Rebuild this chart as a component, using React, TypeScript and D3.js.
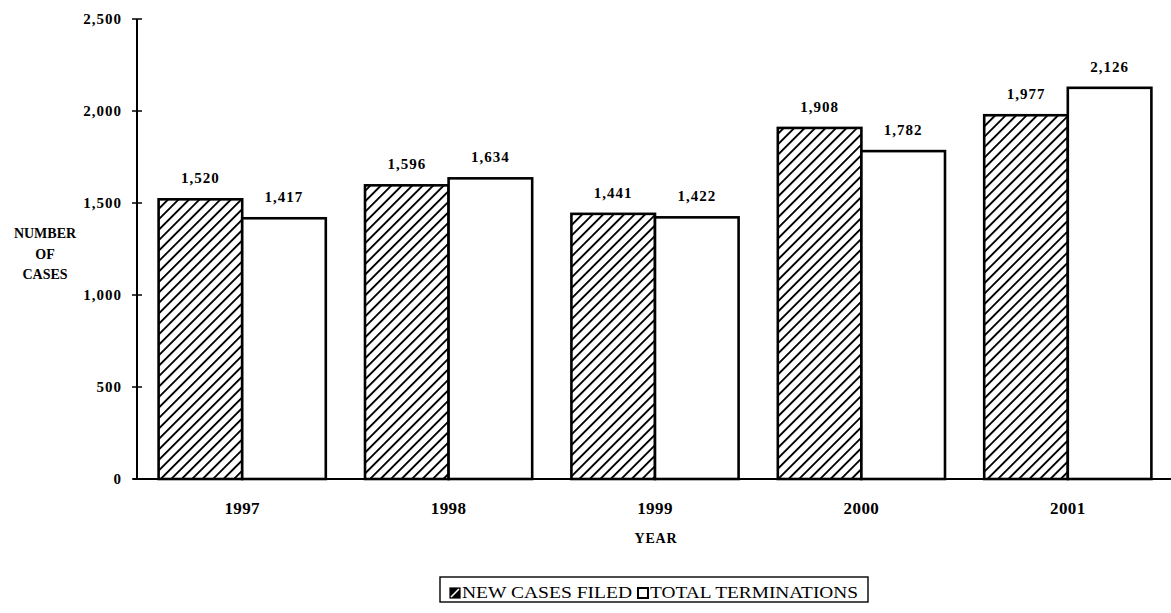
import React from "react";
import * as d3 from "d3";

const years = ["1997", "1998", "1999", "2000", "2001"];
const newCasesFiled = [1520, 1596, 1441, 1908, 1977];
const totalTerminations = [1417, 1634, 1422, 1782, 2126];
const yTicks = [0, 500, 1000, 1500, 2000, 2500];
const seriesNames = ["NEW CASES FILED", "TOTAL TERMINATIONS"];
const yTitle = ["NUMBER", "OF", "CASES"];

const W = 1171;
const H = 613;
const FONT = "'Liberation Serif', 'Times New Roman', serif";

export default function App() {
  const x = d3.scaleBand<string>().domain(years).range([139, 1171]).paddingInner(0.19).paddingOuter(0.095);
  const y = d3.scaleLinear().domain([0, 2500]).range([479, 19]);
  const x1 = d3.scaleBand<string>().domain(["new", "term"]).range([0, x.bandwidth()]);
  const fmt = d3.format(",");
  const axisX = 137;

  return (
    <svg width={W} height={H} style={{ position: "absolute", left: 0, top: 0, background: "#fff" }}>
      <defs>
        <pattern id="hatch" patternUnits="userSpaceOnUse" width="7.4" height="7.4" patternTransform="rotate(45)">
          <rect width="7.4" height="7.4" fill="#fff" />
          <line x1="0" y1="-1" x2="0" y2="8.4" stroke="#000" strokeWidth="3.8" />
        </pattern>
      </defs>
      <rect width={W} height={H} fill="#fff" />

      {/* bars */}
      {years.map((yr, i) => {
        const x0 = x(yr)!;
        const vals = [newCasesFiled[i], totalTerminations[i]];
        return (
          <g key={yr}>
            {vals.map((v, j) => {
              const bx = x0 + x1(j === 0 ? "new" : "term")!;
              const by = y(v);
              return (
                <g key={j}>
                  <rect
                    x={bx}
                    y={by}
                    width={x1.bandwidth()}
                    height={y(0) - by}
                    fill={j === 0 ? "url(#hatch)" : "#fff"}
                    stroke="#000"
                    strokeWidth={2.6}
                  />
                  <text
                    x={bx + x1.bandwidth() / 2}
                    y={by - 16}
                    textAnchor="middle"
                    fontFamily={FONT}
                    fontWeight="bold"
                    fontSize={15}
                    letterSpacing={1}
                  >
                    {fmt(v)}
                  </text>
                </g>
              );
            })}
            <text
              x={x0 + x.bandwidth() / 2}
              y={514}
              textAnchor="middle"
              fontFamily={FONT}
              fontWeight="bold"
              fontSize={17}
              letterSpacing={0.4}
            >
              {yr}
            </text>
          </g>
        );
      })}

      {/* axes */}
      <line x1={axisX} y1={y(2500)} x2={axisX} y2={y(0)} stroke="#000" strokeWidth={2} />
      <line x1={axisX - 4} y1={y(0)} x2={1171} y2={y(0)} stroke="#000" strokeWidth={2} />
      {yTicks.map((t) => (
        <g key={t}>
          <line x1={axisX - 5} x2={axisX + 5} y1={y(t)} y2={y(t)} stroke="#000" strokeWidth={1.5} />
          <text
            x={axisX - 15}
            y={y(t) + 5}
            textAnchor="end"
            fontFamily={FONT}
            fontWeight="bold"
            fontSize={15}
            letterSpacing={1}
          >
            {fmt(t)}
          </text>
        </g>
      ))}

      {/* y title */}
      {yTitle.map((s, i) => (
        <text
          key={s}
          x={45}
          y={238 + i * 20.5}
          textAnchor="middle"
          fontFamily={FONT}
          fontWeight="bold"
          fontSize={14}
        >
          {s}
        </text>
      ))}

      <text x={656} y={543} textAnchor="middle" fontFamily={FONT} fontWeight="bold" fontSize={14} letterSpacing={0.8}>
        YEAR
      </text>

      {/* legend */}
      <rect x={440} y={577} width={428} height={25} fill="#fff" stroke="#000" strokeWidth={1.4} />
      <rect x={450} y={588} width={10} height={10} fill="#000" stroke="#000" strokeWidth={1.2} />
      <line x1={451} y1={597} x2={459} y2={589} stroke="#fff" strokeWidth={1.6} />
      <text x={462} y={598} fontFamily={FONT} fontSize={17} textLength={170} lengthAdjust="spacingAndGlyphs">
        {seriesNames[0]}
      </text>
      <rect x={638} y={588} width={10} height={10} fill="#fff" stroke="#000" strokeWidth={2} />
      <text x={650} y={598} fontFamily={FONT} fontSize={17} textLength={208} lengthAdjust="spacingAndGlyphs">
        {seriesNames[1]}
      </text>
    </svg>
  );
}
